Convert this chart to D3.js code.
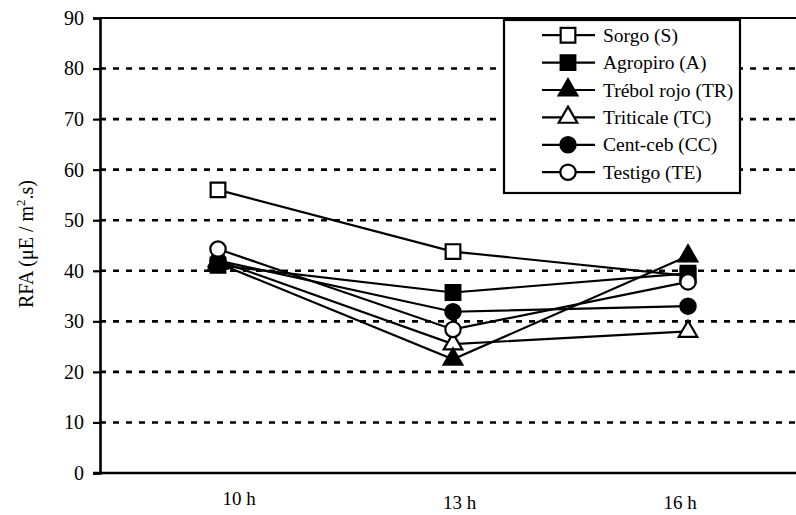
<!DOCTYPE html>
<html><head><meta charset="utf-8">
<script src="https://cdn.jsdelivr.net/npm/d3@7"></script>
<style>body{margin:0;background:#fff}svg{display:block}</style>
</head><body><svg id="c" width="796" height="515"></svg>
<script>
const categories = ["10 h", "13 h", "16 h"];
const seriesNames = ["Sorgo (S)", "Agropiro (A)", "Trébol rojo (TR)", "Triticale (TC)", "Cent-ceb (CC)", "Testigo (TE)"];
const sorgo = [56, 43.8, 39];
const agropiro = [41.1, 35.7, 39.5];
const trebol = [41.5, 22.5, 42.9];
const triticale = [42, 25.5, 28];
const centceb = [42, 31.9, 33];
const testigo = [44.3, 28.4, 37.8];
const yTicks = [0, 10, 20, 30, 40, 50, 60, 70, 80, 90];

const FONT = '"Liberation Serif", "Times New Roman", Times, serif';
const seriesValues = [sorgo, agropiro, trebol, triticale, centceb, testigo];
const markers = [
  {shape: d3.symbolSquare, fill: "#fff"},
  {shape: d3.symbolSquare, fill: "#000"},
  {shape: d3.symbolTriangle, fill: "#000"},
  {shape: d3.symbolTriangle, fill: "#fff"},
  {shape: d3.symbolCircle, fill: "#000"},
  {shape: d3.symbolCircle, fill: "#fff"}
];
const drawOrder = [0, 3, 1, 2, 4, 5];
function sizeOf(s){ return s===d3.symbolSquare?215: s===d3.symbolCircle?185:150; }

const svg = d3.select("#c").attr("font-family", FONT).style("font-family", FONT);
const L = 100, R = 796, T = 18, B = 473;
const y = d3.scaleLinear().domain([0, 90]).range([B, T]);
const x = d3.scalePoint().domain(categories).range([218, 688]);
const xl = d3.scalePoint().domain(categories).range([239, 680]);

// gridlines
svg.append("g").selectAll("line").data(yTicks.filter(v => v > 0 && v < 90)).join("line")
  .attr("x1", L).attr("x2", R).attr("y1", d => y(d)).attr("y2", d => y(d))
  .attr("stroke", "#000").attr("stroke-width", 2.6).attr("stroke-dasharray", "6,7");
svg.append("line").attr("x1", L).attr("x2", R).attr("y1", y(90)).attr("y2", y(90))
  .attr("stroke", "#000").attr("stroke-width", 2);

// y axis
const ya = svg.append("g").attr("transform", `translate(${L},0)`)
  .call(d3.axisLeft(y).tickValues(yTicks).tickSize(7).tickPadding(9));
ya.attr("font-family", null).attr("font-size", null);
ya.select(".domain").attr("stroke-width", 2.6);
ya.selectAll(".tick line").attr("stroke-width", 2.2);
ya.selectAll("text").attr("font-size", 20).style("font-family", FONT).attr("fill", "#000");
// x axis line
svg.append("line").attr("x1", L - 7).attr("x2", R).attr("y1", B).attr("y2", B)
  .attr("stroke", "#000").attr("stroke-width", 2.6);
// x labels
svg.append("g").selectAll("text").data(categories).join("text")
  .attr("x", d => xl(d)).attr("y", (d, i) => i === 0 ? 505 : 509)
  .attr("text-anchor", "middle").attr("font-size", 19).style("font-family", FONT).text(d => d);

// y label
const yl = svg.append("text").attr("transform", "translate(33,244) rotate(-90)")
  .attr("text-anchor", "middle").attr("font-size", 20).style("font-family", FONT);
yl.append("tspan").text("RFA (μE / m");
yl.append("tspan").attr("dy", -8).attr("font-size", 13).text("2");
yl.append("tspan").attr("dy", 8).text(".s)");

// lines
const line = d3.line().x((d, i) => x(categories[i])).y(d => y(d));
svg.append("g").selectAll("path").data(seriesValues).join("path")
  .attr("d", line).attr("fill", "none").attr("stroke", "#000").attr("stroke-width", 2.2);
// markers
drawOrder.forEach(s => {
  const vals = seriesValues[s];
  svg.append("g").selectAll("path").data(vals).join("path")
    .attr("transform", (d, i) => `translate(${x(categories[i])},${y(d)})`)
    .attr("d", d3.symbol().type(markers[s].shape).size(sizeOf(markers[s].shape)))
    .attr("fill", markers[s].fill).attr("stroke", "#000").attr("stroke-width", 2.2);
});

// legend
const lg = svg.append("g");
lg.append("rect").attr("x", 504).attr("y", 20).attr("width", 236).attr("height", 173)
  .attr("fill", "#fff").attr("stroke", "#000").attr("stroke-width", 2.2);
seriesNames.forEach((n, s) => {
  const cy = 35.2 + s * 27.4;
  lg.append("line").attr("x1", 542).attr("x2", 595).attr("y1", cy).attr("y2", cy)
    .attr("stroke", "#000").attr("stroke-width", 2.2);
  lg.append("path").attr("transform", `translate(568,${cy})`)
    .attr("d", d3.symbol().type(markers[s].shape).size(sizeOf(markers[s].shape)))
    .attr("fill", markers[s].fill).attr("stroke", "#000").attr("stroke-width", 2.2);
  lg.append("text").attr("x", 603).attr("y", cy + 6.5).attr("font-size", 19.5).style("font-family", FONT).text(n);
});
</script></body></html>
